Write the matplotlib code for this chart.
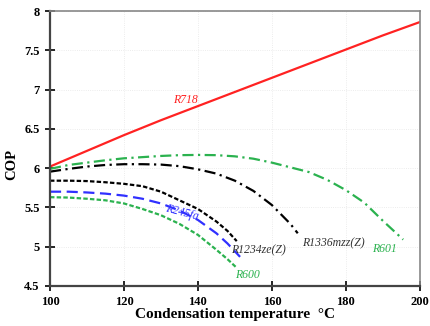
import matplotlib
matplotlib.use("Agg")
import matplotlib.pyplot as plt
import numpy as np

plt.rcParams['font.family'] = ['Liberation Serif', 'DejaVu Serif']

# condensation temperature (°C) and COP
r718_t = [100, 110, 120, 130, 140, 150, 160, 170, 180, 190, 200]
r718_cop = [6.02, 6.22, 6.42, 6.61, 6.79, 6.97, 7.15, 7.33, 7.51, 7.69, 7.86]

r601_t = [100, 105, 110, 115, 120, 125, 130, 135, 140, 145, 150, 155, 160,
          165, 170, 175, 180, 185, 190, 195.5]
r601_cop = [5.99, 6.04, 6.07, 6.10, 6.125, 6.14, 6.155, 6.165, 6.168, 6.165,
            6.15, 6.12, 6.07, 6.01, 5.95, 5.85, 5.72, 5.56, 5.33, 5.09]

r1336_t = [100, 105, 110, 115, 120, 125, 130, 135, 140, 145, 150, 155, 160,
           165, 167]
r1336_cop = [5.955, 5.99, 6.02, 6.04, 6.05, 6.05, 6.045, 6.025, 5.985, 5.93,
             5.84, 5.71, 5.53, 5.29, 5.17]

r1234_t = [100, 105, 110, 115, 120, 125, 130, 135, 140, 145, 148, 150.5]
r1234_cop = [5.84, 5.84, 5.835, 5.82, 5.80, 5.77, 5.70, 5.59, 5.48, 5.32,
             5.20, 5.07]

r245_t = [100, 105, 110, 115, 120, 125, 130, 135, 140, 145, 148, 151.4]
r245_cop = [5.70, 5.70, 5.69, 5.675, 5.65, 5.61, 5.55, 5.46, 5.34, 5.17,
            5.04, 4.87]

r600_t = [100, 105, 110, 115, 120, 125, 130, 135, 140, 145, 148, 150.5]
r600_cop = [5.63, 5.625, 5.61, 5.59, 5.55, 5.48, 5.40, 5.29, 5.15, 4.96,
            4.84, 4.73]

fig = plt.figure(figsize=(4.31, 3.26), dpi=100)
ax = fig.add_axes([0.116, 0.123, 0.858, 0.843])

green = '#2bb24f'
red = '#ff2222'
blue = '#3030ff'
ax.plot(r718_t, r718_cop, color=red, lw=1.6)
ax.plot(r601_t, r601_cop, color=green, lw=1.6, dashes=(5, 2, 1, 2))
ax.plot(r1336_t, r1336_cop, color='black', lw=1.6, dashes=(5, 2, 1, 2))
ax.plot(r1234_t, r1234_cop, color='black', lw=1.6, dashes=(2, 1))
ax.plot(r245_t, r245_cop, color=blue, lw=1.6, dashes=(5, 2.5))
ax.plot(r600_t, r600_cop, color=green, lw=1.6, dashes=(2, 1))

lab = dict(fontsize=8.5, style='italic', ha='center', va='center')
ax.text(136.6, 6.87, 'R718', color=red, **lab)
ax.text(135.7, 5.43, 'R245fa', color=blue, rotation=-15, **lab)
ax.text(156.3, 4.95, 'R1234ze(Z)', color='#333333', **lab)
ax.text(176.5, 5.04, 'R1336mzz(Z)', color='#333333', **lab)
ax.text(190.5, 4.97, 'R601', color=green, **lab)
ax.text(153.5, 4.64, 'R600', color=green, **lab)

ax.set_xlim(100, 200)
ax.set_ylim(4.5, 8)
ax.set_xticks([100, 120, 140, 160, 180, 200])
ax.set_yticks([4.5, 5, 5.5, 6, 6.5, 7, 7.5, 8])
ax.set_yticklabels(['4.5', '5', '5.5', '6', '6.5', '7', '7.5', '8'])
ax.grid(True, color='#e6e6e6', lw=0.6, ls=':')
ax.tick_params(direction='inout', length=7, width=1.2, labelsize=9, pad=4)
for lbl in ax.get_xticklabels() + ax.get_yticklabels():
    lbl.set_fontweight('bold')

for side in ['left', 'bottom']:
    ax.spines[side].set_color('#444444')
    ax.spines[side].set_linewidth(1.6)
for side in ['top', 'right']:
    ax.spines[side].set_color('#888888')
    ax.spines[side].set_linewidth(1.2)

ax.set_xlabel('Condensation temperature  \u00b0C', fontsize=11, fontweight='bold', labelpad=0)
ax.set_ylabel('COP', fontsize=10.5, fontweight='bold')
ax.yaxis.set_label_coords(-0.086, 0.44)

fig.savefig('out.png', dpi=100)
